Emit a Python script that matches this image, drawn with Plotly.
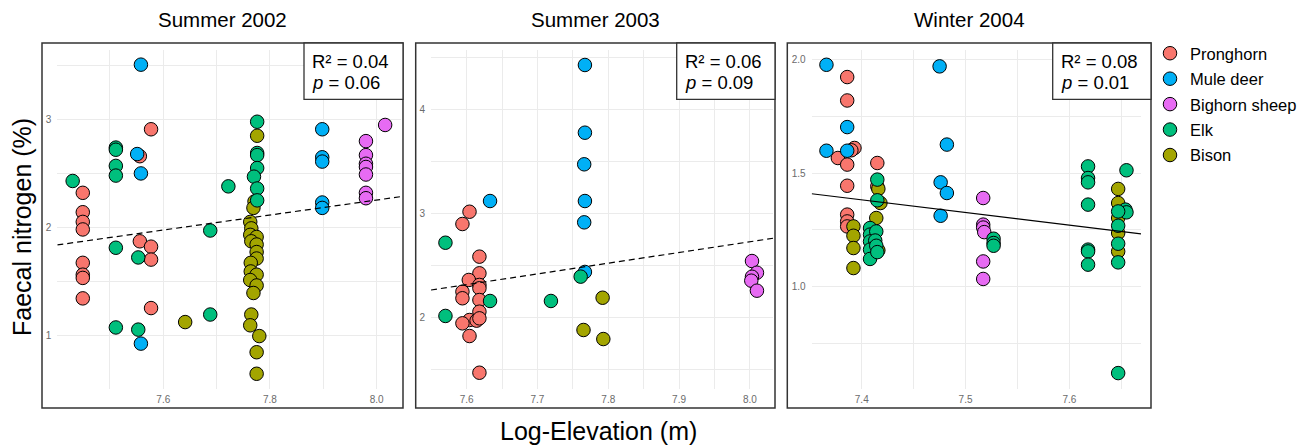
import plotly.graph_objects as go

W, H = 1309, 446

species = ["Pronghorn", "Mule deer", "Bighorn sheep", "Elk", "Bison"]
colors = {"Pronghorn": "#F8766D", "Mule deer": "#00B0F6", "Bighorn sheep": "#E76BF3",
          "Elk": "#00BF7D", "Bison": "#A3A500"}
draw_order = ["Pronghorn", "Mule deer", "Bighorn sheep", "Bison", "Elk"]

panel_titles = ["Summer 2002", "Summer 2003", "Winter 2004"]
r2_values = ["0.04", "0.06", "0.08"]
p_values = ["0.06", "0.09", "0.01"]
fit_slopes = [0.696, 1.029, -0.555]
fit_intercepts = [-3.315, -5.506, 5.489]
fit_dash = ["6px,4px", "6px,4px", "solid"]

# ---------------- Summer 2002 ----------------
s02_pronghorn_x = [7.449, 7.449, 7.449, 7.449, 7.449, 7.449, 7.449, 7.449, 7.556, 7.556, 7.577, 7.577, 7.577, 7.577]
s02_pronghorn_y = [2.32, 2.14, 2.05, 1.98, 1.67, 1.56, 1.53, 1.34, 2.66, 1.87, 2.91, 1.82, 1.70, 1.25]
s02_muledeer_x = [7.558, 7.551, 7.558, 7.558, 7.898, 7.898, 7.898, 7.898, 7.898]
s02_muledeer_y = [3.51, 2.68, 2.50, 0.92, 2.91, 2.65, 2.61, 2.23, 2.18]
s02_bighorn_x = [7.980, 7.980, 7.980, 7.980, 7.980, 7.980, 7.980, 8.016]
s02_bighorn_y = [2.80, 2.67, 2.59, 2.56, 2.49, 2.32, 2.27, 2.95]
s02_elk_x = [7.430, 7.511, 7.511, 7.511, 7.511, 7.511, 7.511, 7.553, 7.553, 7.688, 7.688, 7.722,
             7.776, 7.776, 7.776, 7.776, 7.770, 7.776, 7.776]
s02_elk_y = [2.43, 2.74, 2.72, 2.57, 2.48, 1.81, 1.07, 1.72, 1.05, 1.97, 1.19, 2.38,
             2.98, 2.69, 2.67, 2.55, 2.47, 2.36, 2.25]
s02_bison_x = [7.641, 7.776, 7.771, 7.769, 7.763, 7.765, 7.763, 7.775, 7.765, 7.775, 7.775, 7.775,
               7.764, 7.764, 7.775, 7.763, 7.775, 7.769, 7.765, 7.763, 7.780, 7.775, 7.775]
s02_bison_y = [1.12, 2.85, 2.24, 2.18, 2.05, 1.99, 1.93, 1.91, 1.87, 1.84, 1.77, 1.71,
               1.67, 1.59, 1.56, 1.51, 1.46, 1.39, 1.19, 1.09, 0.99, 0.84, 0.64]

# ---------------- Summer 2003 ----------------
s03_pronghorn_x = [7.604, 7.594, 7.618, 7.618, 7.603, 7.618, 7.618, 7.594, 7.594, 7.618, 7.618,
                   7.604, 7.594, 7.614, 7.618, 7.604, 7.618]
s03_pronghorn_y = [3.015, 2.897, 2.583, 2.423, 2.359, 2.311, 2.279, 2.246, 2.183, 2.166, 2.054,
                   1.974, 1.942, 1.968, 1.99, 1.82, 1.467]
s03_muledeer_x = [7.633, 7.767, 7.767, 7.766, 7.767, 7.766, 7.767]
s03_muledeer_y = [3.118, 4.426, 3.775, 3.471, 3.118, 2.913, 2.436]
s03_bighorn_x = [8.003, 8.010, 8.003, 8.002, 8.010]
s03_bighorn_y = [2.541, 2.429, 2.39, 2.352, 2.256]
s03_elk_x = [7.570, 7.570, 7.633, 7.719, 7.761]
s03_elk_y = [2.717, 2.013, 2.157, 2.157, 2.391]
s03_bison_x = [7.765, 7.792, 7.793]
s03_bison_y = [1.878, 2.188, 1.791]

# ---------------- Winter 2004 ----------------
w04_pronghorn_x = [7.386, 7.386, 7.393, 7.390, 7.377, 7.386, 7.386, 7.386, 7.386, 7.386, 7.415, 7.415]
w04_pronghorn_y = [1.922, 1.819, 1.61, 1.60, 1.566, 1.537, 1.444, 1.317, 1.287, 1.265, 1.544, 1.441]
w04_muledeer_x = [7.366, 7.386, 7.366, 7.386, 7.475, 7.482, 7.476, 7.482, 7.476]
w04_muledeer_y = [1.976, 1.702, 1.598, 1.598, 1.969, 1.625, 1.459, 1.412, 1.312]
w04_bighorn_x = [7.517, 7.517, 7.517, 7.518, 7.517, 7.517]
w04_bighorn_y = [1.39, 1.273, 1.26, 1.24, 1.111, 1.034]
w04_elk_x = [7.415, 7.415, 7.408, 7.408, 7.414, 7.408, 7.413, 7.408, 7.414, 7.408, 7.415,
             7.527, 7.527, 7.527,
             7.618, 7.618, 7.618, 7.618, 7.618, 7.618, 7.618,
             7.655, 7.654, 7.655, 7.647, 7.647, 7.647, 7.647, 7.647]
w04_elk_y = [1.471, 1.380, 1.258, 1.229, 1.243, 1.199, 1.203, 1.163, 1.18, 1.122, 1.152,
             1.211, 1.192, 1.18,
             1.529, 1.478, 1.459, 1.361, 1.163, 1.155, 1.097,
             1.512, 1.339, 1.327, 1.331, 1.268, 1.189, 1.107, 0.62]
w04_bison_x = [7.392, 7.392, 7.392, 7.392, 7.416, 7.418, 7.414, 7.416,
               7.647, 7.647, 7.647, 7.647, 7.647]
w04_bison_y = [1.265, 1.224, 1.170, 1.082, 1.43, 1.368, 1.302, 1.16,
               1.43, 1.368, 1.302, 1.236, 1.155]

panels = [
    {"Pronghorn": (s02_pronghorn_x, s02_pronghorn_y), "Mule deer": (s02_muledeer_x, s02_muledeer_y),
     "Bighorn sheep": (s02_bighorn_x, s02_bighorn_y), "Elk": (s02_elk_x, s02_elk_y),
     "Bison": (s02_bison_x, s02_bison_y)},
    {"Pronghorn": (s03_pronghorn_x, s03_pronghorn_y), "Mule deer": (s03_muledeer_x, s03_muledeer_y),
     "Bighorn sheep": (s03_bighorn_x, s03_bighorn_y), "Elk": (s03_elk_x, s03_elk_y),
     "Bison": (s03_bison_x, s03_bison_y)},
    {"Pronghorn": (w04_pronghorn_x, w04_pronghorn_y), "Mule deer": (w04_muledeer_x, w04_muledeer_y),
     "Bighorn sheep": (w04_bighorn_x, w04_bighorn_y), "Elk": (w04_elk_x, w04_elk_y),
     "Bison": (w04_bison_x, w04_bison_y)},
]

# layout geometry (screen pixels of the target view)
panel_px = [(57.3, 400.5), (431.0, 773.3), (811.7, 1141.0)]
panel_py = (50.0, 389.0)
box_px = [(42, 403), (415.7, 775), (787.3, 1151)]
box_py = (43, 408)
stat_box_left = [304, 676.7, 1052.7]
stat_box_bottom = 99.3

x_ranges = [[7.4012, 8.0448], [7.5496, 8.0331], [7.3518, 7.669]]
y_ranges = [[0.4986, 3.646], [1.3106, 4.570], [0.55, 2.041]]
x_dticks = [0.2, 0.1, 0.1]
y_dticks = [1, 1, 0.5]
y_formats = [".0f", ".0f", ".1f"]

FONT = "Liberation Sans, Arial, sans-serif"
GRID = "#ebebeb"
OFF = 8  # page body margin offset

def fx(px):
    return (px - OFF) / W

def fy(py):
    return 1 - (py - OFF) / H

fig = go.Figure()
shapes = []
annotations = []

for i, data in enumerate(panels):
    n = "" if i == 0 else str(i + 1)
    xa, ya = "x" + n, "y" + n
    for sp in draw_order:
        xs, ys = data[sp]
        fig.add_trace(go.Scatter(
            x=xs, y=ys, mode="markers", name=sp, legendgroup=sp,
            showlegend=(i == 0), xaxis=xa, yaxis=ya,
            legendrank=species.index(sp) + 1,
            marker=dict(size=13.5, color=colors[sp], line=dict(color="black", width=1)),
            hoverinfo="skip"))
    x0, x1 = x_ranges[i]
    fig.add_trace(go.Scatter(
        x=[x0, x1], y=[fit_intercepts[i] + fit_slopes[i] * x0, fit_intercepts[i] + fit_slopes[i] * x1],
        mode="lines", showlegend=False, xaxis=xa, yaxis=ya,
        line=dict(color="black", width=1.2, dash=fit_dash[i]), hoverinfo="skip"))

    tickfont = dict(family=FONT, size=10, color="#6b6b6b")
    fig.layout["xaxis" + n] = dict(
        domain=[fx(panel_px[i][0]), fx(panel_px[i][1])], range=x_ranges[i], anchor=ya,
        dtick=x_dticks[i], tick0=0, tickformat=".1f", showgrid=True, gridcolor=GRID, gridwidth=1,
        minor=dict(dtick=x_dticks[i] / 2, showgrid=True, gridcolor=GRID, gridwidth=1),
        zeroline=False, showline=False, ticks="", tickfont=tickfont, fixedrange=True,
        ticklabelstandoff=3)
    fig.layout["yaxis" + n] = dict(
        domain=[fy(panel_py[1]), fy(panel_py[0])], range=y_ranges[i], anchor=xa,
        dtick=y_dticks[i], tick0=0, tickformat=y_formats[i], showgrid=True, gridcolor=GRID, gridwidth=1,
        minor=dict(dtick=y_dticks[i] / 2, showgrid=True, gridcolor=GRID, gridwidth=1),
        zeroline=False, showline=False, ticks="", tickfont=tickfont, fixedrange=True,
        ticklabelstandoff=5)

    shapes.append(dict(type="rect", xref="paper", yref="paper",
                       x0=fx(box_px[i][0]), x1=fx(box_px[i][1]), y0=fy(box_py[1]), y1=fy(box_py[0]),
                       line=dict(color="#333333", width=1.5), fillcolor="rgba(0,0,0,0)", layer="above"))
    shapes.append(dict(type="rect", xref="paper", yref="paper",
                       x0=fx(stat_box_left[i]), x1=fx(box_px[i][1]), y0=fy(stat_box_bottom), y1=fy(box_py[0]),
                       line=dict(color="#333333", width=1.3), fillcolor="white", layer="above"))
    annotations.append(dict(xref="paper", yref="paper", x=fx(stat_box_left[i] + 6), y=fy(61),
                            xanchor="left", yanchor="middle", showarrow=False,
                            text="R² = " + r2_values[i], font=dict(family=FONT, size=18.5, color="black")))
    annotations.append(dict(xref="paper", yref="paper", x=fx(stat_box_left[i] + 6), y=fy(82),
                            xanchor="left", yanchor="middle", showarrow=False,
                            text="<i>p</i> = " + p_values[i], font=dict(family=FONT, size=18.5, color="black")))
    annotations.append(dict(xref="paper", yref="paper", x=fx((box_px[i][0] + box_px[i][1]) / 2), y=fy(20),
                            xanchor="center", yanchor="middle", showarrow=False,
                            text=panel_titles[i], font=dict(family=FONT, size=20.5, color="black")))

annotations.append(dict(xref="paper", yref="paper", x=fx(22), y=fy(227), textangle=-90,
                        xanchor="center", yanchor="middle", showarrow=False,
                        text="Faecal nitrogen (%)", font=dict(family=FONT, size=25, color="black")))
annotations.append(dict(xref="paper", yref="paper", x=fx(598), y=fy(431),
                        xanchor="center", yanchor="middle", showarrow=False,
                        text="Log-Elevation (m)", font=dict(family=FONT, size=25, color="black")))

fig.update_layout(
    width=W, height=H, margin=dict(l=0, r=0, t=0, b=0),
    paper_bgcolor="white", plot_bgcolor="white",
    shapes=shapes, annotations=annotations,
    legend=dict(x=fx(1150), y=fy(36), xanchor="left", yanchor="top",
                font=dict(family=FONT, size=16.5, color="black"),
                bgcolor="rgba(0,0,0,0)", tracegroupgap=1, itemsizing="trace"),
)

fig.write_html("out.html")
